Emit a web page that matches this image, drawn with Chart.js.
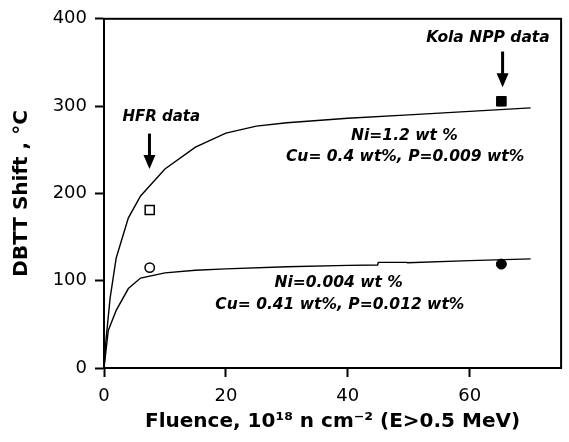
<!DOCTYPE html>
<html><head><meta charset="utf-8">
<script src="https://cdn.jsdelivr.net/npm/chart.js@4/dist/chart.umd.min.js"></script>
<style>html,body{margin:0;padding:0;background:#fff;}#wrap{width:569px;height:442px;}</style>
</head><body><div id="wrap"><canvas id="c" width="569" height="442"></canvas></div>
<script>
// ---- data ----
const xTicks = [0, 20, 40, 60];
const yTicks = [0, 100, 200, 300, 400];

const highNiFluence = [0, 0.3, 1, 2, 4, 6, 10, 15, 20, 25, 30, 40, 50, 60, 70];
const highNiShift   = [0, 30, 80, 126, 172, 197, 228, 253, 269, 277, 281, 286, 290, 294, 298];

const lowNiFluence = [0, 0.2, 0.7, 2, 4, 6, 10, 15, 20, 30, 40, 44.9, 45, 49.7, 49.8, 60, 70];
const lowNiShift   = [0, 12, 43, 66, 91, 103, 109, 112, 113.5, 116, 117.5, 118, 121, 121, 120.5, 123, 125];

const hfrFluence  = [7.5];
const hfrHighNi   = [181];
const hfrLowNi    = [115];
const kolaFluence = [65.2];
const kolaHighNi  = [305.5];
const kolaLowNi   = [119];

const labelTexts = ['HFR data', 'Kola NPP data', 'Ni=1.2 wt %', 'Cu= 0.4 wt%, P=0.009 wt%', 'Ni=0.004 wt %', 'Cu= 0.41 wt%, P=0.012 wt%'];
const xTitle = 'Fluence, 10\u00B9\u2078 n cm\u207B\u00B2 (E>0.5 MeV)';
const yTitle = 'DBTT Shift , \u00B0C';

// ---- annotation placement (data coordinates) ----
const textPlaces = [
  {x: 9.4, y: 287.5, size: 15},
  {x: 63.0, y: 378, size: 15.5},
  {x: 49.3, y: 265.5, size: 15.5},
  {x: 49.4, y: 242, size: 15.5},
  {x: 38.5, y: 97.7, size: 15.5},
  {x: 38.7, y: 72.7, size: 15.5}
];
const arrowPlaces = [
  {x: 7.46, from: 268.5, to: 228},
  {x: 65.4, from: 362.5, to: 321.6}
];

const toPts = (xs, ys) => xs.map((x, i) => ({x, y: ys[i]}));

Chart.defaults.font.family = 'DejaVu Sans';
Chart.defaults.color = '#000';

const framePlugin = {
  id: 'frame',
  afterDraw(chart) {
    const {ctx, chartArea: a} = chart;
    ctx.save();
    ctx.strokeStyle = '#000';
    ctx.lineWidth = 2;
    ctx.strokeRect(a.left, a.top, a.right - a.left, a.bottom - a.top);
    ctx.restore();
  }
};

const annoPlugin = {
  id: 'anno',
  afterDatasetsDraw(chart) {
    const {ctx, scales: {x, y}} = chart;
    ctx.save();
    ctx.fillStyle = '#000';
    ctx.textAlign = 'center';
    ctx.textBaseline = 'middle';
    labelTexts.forEach((t, i) => {
      const p = textPlaces[i];
      ctx.font = 'italic bold ' + p.size + 'px "DejaVu Sans"';
      ctx.fillText(t, x.getPixelForValue(p.x), y.getPixelForValue(p.y));
    });
    arrowPlaces.forEach(a => {
      const px = x.getPixelForValue(a.x);
      const y0 = y.getPixelForValue(a.from);
      const y1 = y.getPixelForValue(a.to);
      const head = 14;
      ctx.strokeStyle = '#000';
      ctx.lineWidth = 3;
      ctx.beginPath();
      ctx.moveTo(px, y0);
      ctx.lineTo(px, y1 - head + 1);
      ctx.stroke();
      ctx.beginPath();
      ctx.moveTo(px - 6, y1 - head);
      ctx.lineTo(px + 6, y1 - head);
      ctx.lineTo(px, y1);
      ctx.closePath();
      ctx.fill();
    });
    ctx.restore();
  }
};

new Chart(document.getElementById('c'), {
  type: 'scatter',
  data: {
    datasets: [
      {label: 'Ni=1.2 model', data: toPts(highNiFluence, highNiShift), showLine: true, borderColor: '#000', borderWidth: 1.4, pointRadius: 0, tension: 0, fill: false},
      {label: 'Ni=0.004 model', data: toPts(lowNiFluence, lowNiShift), showLine: true, borderColor: '#000', borderWidth: 1.4, pointRadius: 0, tension: 0, fill: false},
      {label: 'HFR high Ni', data: toPts(hfrFluence, hfrHighNi), pointStyle: 'rect', pointRadius: 6.4, backgroundColor: '#fff', borderColor: '#000', borderWidth: 1.5},
      {label: 'HFR low Ni', data: toPts(hfrFluence, hfrLowNi), pointStyle: 'circle', pointRadius: 4.7, backgroundColor: '#fff', borderColor: '#000', borderWidth: 1.5},
      {label: 'Kola high Ni', data: toPts(kolaFluence, kolaHighNi), pointStyle: 'rect', pointRadius: 6.8, backgroundColor: '#000', borderColor: '#000', borderWidth: 1},
      {label: 'Kola low Ni', data: toPts(kolaFluence, kolaLowNi), pointStyle: 'circle', pointRadius: 5, backgroundColor: '#000', borderColor: '#000', borderWidth: 1}
    ]
  },
  options: {
    responsive: false,
    animation: false,
    devicePixelRatio: 1,
    layout: {padding: {top: 14, right: 4, left: 0, bottom: 0}},
    plugins: {legend: {display: false}, tooltip: {enabled: false}},
    scales: {
      x: {
        type: 'linear', position: 'bottom', min: 0, max: 75,
        afterBuildTicks: s => { s.ticks = xTicks.map(v => ({value: v})); },
        afterFit: s => { s.height = 74; },
        grid: {display: true, drawOnChartArea: false, drawTicks: true, tickLength: 9, tickColor: '#000', tickWidth: 2},
        border: {display: true, color: '#000', width: 2},
        ticks: {color: '#000', font: {size: 18}, padding: 9, maxRotation: 0},
        title: {display: true, text: xTitle, color: '#000', font: {size: 20, weight: 'bold'}, padding: {top: 0, bottom: 8}}
      },
      y: {
        type: 'linear', position: 'left', min: 0, max: 400,
        afterBuildTicks: s => { s.ticks = yTicks.map(v => ({value: v})); },
        afterFit: s => { s.width = 104; },
        grid: {display: true, drawOnChartArea: false, drawTicks: true, tickLength: 9, tickColor: '#000', tickWidth: 2},
        border: {display: true, color: '#000', width: 2},
        ticks: {color: '#000', font: {size: 18}, padding: 8},
        title: {display: true, text: yTitle, color: '#000', font: {size: 20, weight: 'bold'}, padding: {top: 10, bottom: 0}}
      }
    }
  },
  plugins: [framePlugin, annoPlugin]
});
</script>
</body></html>
